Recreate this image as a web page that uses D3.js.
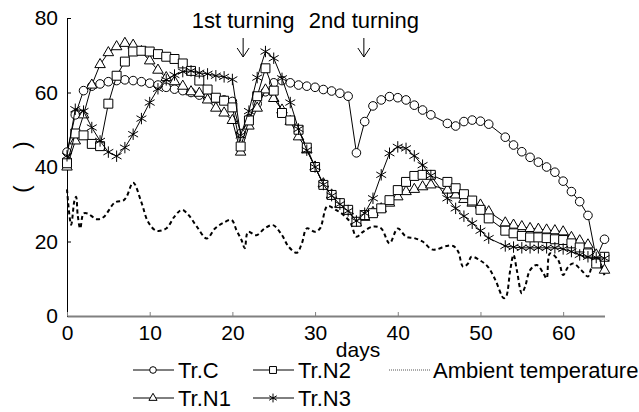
<!DOCTYPE html>
<html>
<head>
<meta charset="utf-8">
<script src="https://cdnjs.cloudflare.com/ajax/libs/d3/7.8.5/d3.min.js"></script>
<style>
  body { margin: 0; background: #fff; }
  svg text { font-family: "Liberation Sans", Arial, sans-serif; fill: #000; }
</style>
</head>
<body>
<div id="chart"></div>
<script>
// days sampled for the four treatments (days 45 and 52 not measured)
const days = [0,1,2,3,4,5,6,7,8,9,10,11,12,13,14,15,16,17,18,19,20,21,22,23,24,25,26,27,28,29,
  30,31,32,33,34,35,36,37,38,39,40,41,42,43,44,46,47,48,49,50,51,53,54,55,56,57,58,59,60,61,62,63,64,65];

const trC = [44,54,60.5,61.7,62.3,62.9,63.2,63.4,63.2,62.9,62.5,62,61.4,60.9,60.5,60,59.3,58.7,58.3,58,
  57.6,49,53,57,60.2,62.6,63.2,62.6,62,61.7,61.4,60.8,60.4,59.8,59,43.8,52.2,56.4,58,58.9,
  58.6,58,56.6,55.3,54,51.7,51,52.2,52.6,52.3,51.5,48,45.9,44.1,42.6,41.3,40,38.6,36.2,33.4,30.7,27,15.5,20.6];

const trN1 = [40,47,54,62,67.5,70.7,72.3,73.2,72.7,71,68.5,66,64,62.9,61.7,60.2,59.8,58,55.8,54.5,
  52.5,44,51,55.8,60.7,58.4,55.3,52.2,48.1,44.6,40,35.5,32.5,30,28.2,25,26.5,27.8,28.8,30.3,
  32,33.4,34,34.7,35.2,33.8,32.5,31.3,30.3,29.8,28,25,24.4,24,23.5,23.3,23.1,22.9,22.6,21.1,20.2,19.1,16.4,12.3];

const trN2 = [41,49,48.5,46.2,45.6,57,64.5,68.3,71,71.2,71,70.3,69.6,69,67.8,65.8,63.2,60.8,58.6,57.8,
  56,45.5,52.5,59,66.5,60.5,54.5,52.5,50,45.2,40,35.2,32.5,30.3,28.5,25.3,27.1,27.6,28.9,31.1,
  33.8,36,37.6,37.9,37.9,36,34.3,32.7,31,28.5,26.2,22.9,22.2,21.5,21.1,21.1,20.9,20.6,20.4,19.5,18.4,16.8,14.1,15.9];

const trN3 = [43,55.5,55,50.6,47,44,42.9,45.2,48.8,53,57.3,61,63.4,64.7,65.6,65.8,65.3,65,64.5,64.2,
  63.5,48.5,55,64,71,69.2,63.8,57.3,50.2,44.5,40,35.3,32.3,30,28.2,25.5,27.6,31.6,37.9,43.7,
  45.4,45,43,40.5,37.7,31.6,28.9,26.8,24.9,22.9,20.9,18.8,18.5,18.3,18.3,18.3,18.3,18.3,18,17.3,16.4,15.9,15.7,15.5];

// ambient temperature, read at irregular times
const ambientDays = [0,0.5,0.9,1.1,1.3,1.6,2,2.5,3.6,4.4,5.8,6.8,7.2,8,9,9.8,10.8,12,13,13.9,14.7,15.7,16.9,
  17.9,18.9,19.9,20.5,21.1,21.5,21.9,22.9,23.9,24.9,26,26.8,27.8,28.4,29,30,30.6,31.5,32.5,33.5,34.3,
  35,35.8,37,38,39,40,41,42,43,44.1,44.7,45.9,46.7,47.3,47.9,48.5,48.9,49.9,50.9,51.8,52.8,53.1,53.6,
  54,54.4,55,55.4,56,56.8,57.6,58,58.4,59.4,60,60.6,61.2,62.2,63,63.4,64,65];
const ambientTemp = [34,24.5,31,32,27,23.5,27.5,27.5,26,26.5,30.5,31,32,35.8,30.5,25.3,22.9,23.5,26.7,28.5,27.1,24,20.8,
  23.5,25,25.8,23,20.4,18.2,22.6,21.7,23.5,24.4,21.7,18.6,17,19.5,23.5,22.6,23.5,29.5,28.5,27,25,
  21.3,22.6,24,23.5,19.5,23.5,21.3,20.9,20,17.9,17.9,18.8,18.8,17.3,13.2,14.1,15.9,15,13.2,9.7,4.8,5.2,12.3,
  16.4,12.3,6.1,7.9,12.3,13.7,11.5,10.1,16.8,15,11,13.2,14.1,12.3,10.6,12.8,15,11];

const xTicks = [0,10,20,30,40,50,60];
const yTicks = [0,20,40,60,80];
const turnings = [{day: 21.3, label: "1st turning"}, {day: 35.9, label: "2nd turning"}];

const width = 639, height = 412;
const svg = d3.select("#chart").append("svg")
  .attr("width", width).attr("height", height);

const x = d3.scaleLinear().domain([0, 65]).range([67, 604.5]);
const y = d3.scaleLinear().domain([0, 80]).range([316, 18]);

// marker shapes
const star = {
  draw(ctx, size) {
    const r = Math.sqrt(size) / 2;
    for (let k = 0; k < 3; k++) {
      const a = Math.PI / 2 + k * Math.PI / 3;
      ctx.moveTo(r * Math.cos(a), r * Math.sin(a));
      ctx.lineTo(-r * Math.cos(a), -r * Math.sin(a));
    }
  }
};
const series = [
  {name: "Tr.C", values: trC, shape: d3.symbolCircle, size: 58},
  {name: "Tr.N1", values: trN1, shape: d3.symbolTriangle, size: 48},
  {name: "Tr.N2", values: trN2, shape: d3.symbolSquare, size: 80},
  {name: "Tr.N3", values: trN3, shape: star, size: 130}
];

// axes
const yAxis = svg.append("g")
  .attr("transform", `translate(${x(0)},0)`)
  .call(d3.axisLeft(y).tickValues(yTicks).tickSize(-4).tickSizeOuter(0).tickPadding(9));
yAxis.select(".domain").attr("stroke", "#000");
yAxis.selectAll("text").style("font-size", "21px");

const xAxis = svg.append("g")
  .attr("transform", `translate(0,${y(0)})`)
  .call(d3.axisBottom(x).tickValues(xTicks).tickSize(-4).tickSizeOuter(0).tickPadding(9));
xAxis.select(".domain").attr("stroke", "#808080").attr("stroke-width", 2);
xAxis.selectAll(".tick line").attr("stroke", "#808080");
xAxis.selectAll("text").style("font-size", "21px");

svg.append("text").attr("x", 358).attr("y", 357)
  .attr("text-anchor", "middle").style("font-size", "21px").text("days");

svg.append("text")
  .attr("transform", "translate(29,167) rotate(-90)")
  .attr("text-anchor", "middle").style("font-size", "22px")
  .text("(\u00a0\u00a0\u00a0\u00a0\u00a0\u00a0)");

// ambient temperature
svg.append("path")
  .datum(ambientDays.map((d, i) => [d, ambientTemp[i]]))
  .attr("fill", "none").attr("stroke", "#000").attr("stroke-width", 2)
  .attr("stroke-dasharray", "4,3")
  .attr("d", d3.line().x(d => x(d[0])).y(d => y(d[1])).curve(d3.curveCatmullRom));

// treatment lines and markers
series.forEach(s => {
  const pts = days.map((d, i) => [d, s.values[i]]);
  svg.append("path").datum(pts)
    .attr("fill", "none").attr("stroke", "#000").attr("stroke-width", 1)
    .attr("d", d3.line().x(d => x(d[0])).y(d => y(d[1])));
  svg.append("g").selectAll("path").data(pts).join("path")
    .attr("transform", d => `translate(${x(d[0])},${y(d[1])})`)
    .attr("d", d3.symbol(s.shape, s.size))
    .attr("fill", "#fff").attr("stroke", "#000").attr("stroke-width", 1);
});

// turning annotations
turnings.forEach(t => {
  const tx = x(t.day);
  svg.append("text").attr("x", tx).attr("y", 28)
    .attr("text-anchor", "middle").style("font-size", "22px").text(t.label);
  svg.append("path")
    .attr("d", `M${tx},38V57M${tx - 6},48L${tx},57L${tx + 6},48`)
    .attr("fill", "none").attr("stroke", "#000").attr("stroke-width", 1);
});

// legend
const legendItems = [
  {s: series[0], lx: 133, ly: 370},
  {s: series[2], lx: 253, ly: 370},
  {s: series[1], lx: 133, ly: 398},
  {s: series[3], lx: 253, ly: 398}
];
legendItems.forEach(item => {
  const g = svg.append("g").attr("transform", `translate(${item.lx},${item.ly})`);
  g.append("line").attr("x1", 0).attr("x2", 41).attr("stroke", "#000");
  g.append("path").attr("transform", "translate(20,0)")
    .attr("d", d3.symbol(item.s.shape, item.s.size * 0.6))
    .attr("fill", "#fff").attr("stroke", "#000");
  g.append("text").attr("x", 45).attr("y", 8).style("font-size", "22px").text(item.s.name);
});
const amb = svg.append("g").attr("transform", "translate(389,370)");
amb.append("line").attr("x1", 0).attr("x2", 41)
  .attr("stroke", "#555").attr("stroke-dasharray", "1,1");
amb.append("text").attr("x", 44).attr("y", 8).style("font-size", "22px").text("Ambient temperature");
</script>
</body>
</html>
